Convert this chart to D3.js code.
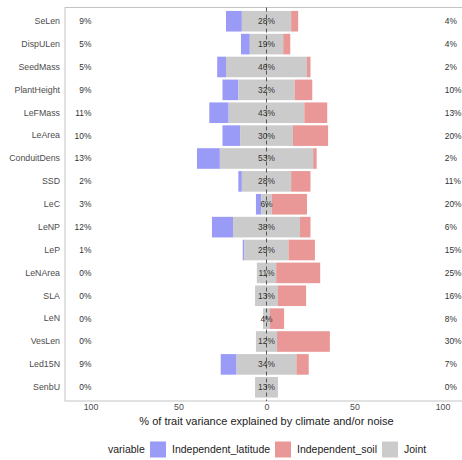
<!DOCTYPE html>
<html>
<head>
<meta charset="utf-8">
<script src="https://cdn.jsdelivr.net/npm/d3@7"></script>
<style>
  html, body { margin: 0; padding: 0; background: #fff; }
  svg { display: block; font-family: "Liberation Sans", Arial, Helvetica, sans-serif; }
</style>
</head>
<body>
<svg id="chart" width="462" height="460"></svg>
<script>
// Traits, top to bottom
const traits = ["SeLen", "DispULen", "SeedMass", "PlantHeight", "LeFMass", "LeArea",
  "ConduitDens", "SSD", "LeC", "LeNP", "LeP", "LeNArea", "SLA", "LeN", "VesLen",
  "Led15N", "SenbU"];

// % of trait variance explained by each component
const latitude = [9, 5, 5, 9, 11, 10, 13, 2, 3, 12, 1, 0, 0, 0, 0, 9, 0];
const joint    = [28, 19, 46, 32, 43, 30, 53, 28, 6, 38, 25, 11, 13, 4, 12, 34, 13];
const soil     = [4, 4, 2, 10, 13, 20, 2, 11, 20, 6, 15, 25, 16, 8, 30, 7, 0];

const xTicks = [-100, -50, 0, 50, 100];
const legendKeys = ["Independent_latitude", "Independent_soil", "Joint"];
const fills = {
  Independent_latitude: "#9a9af7",
  Independent_soil: "#e99797",
  Joint: "#cbcbcb"
};

const svg = d3.select("#chart");
const panel = { left: 65, right: 475, top: 7.5, bottom: 401 };

const x = d3.scaleLinear().domain([-100, 100]).range([90.5, 442.5]);
const y = d3.scaleBand().domain(traits)
  .range([panel.top, panel.bottom])
  .paddingInner(0.1).paddingOuter(0.15);

// Panel border
svg.append("rect")
  .attr("x", panel.left).attr("y", panel.top)
  .attr("width", panel.right - panel.left).attr("height", panel.bottom - panel.top)
  .attr("fill", "none").attr("stroke", "#c4c4c4").attr("stroke-width", 1);

// Stacked segments: joint centred on zero, latitude to the left, soil to the right
const rows = traits.map((t, i) => ({
  trait: t, lat: latitude[i], joint: joint[i], soil: soil[i]
}));

const segs = [];
rows.forEach(r => {
  const h = r.joint / 2;
  segs.push({ trait: r.trait, key: "Independent_latitude", x0: -h - r.lat, x1: -h });
  segs.push({ trait: r.trait, key: "Joint", x0: -h, x1: h });
  segs.push({ trait: r.trait, key: "Independent_soil", x0: h, x1: h + r.soil });
});

svg.append("g").selectAll("rect")
  .data(segs.filter(s => s.x1 > s.x0))
  .join("rect")
  .attr("x", d => x(d.x0))
  .attr("width", d => x(d.x1) - x(d.x0))
  .attr("y", d => y(d.trait))
  .attr("height", y.bandwidth())
  .attr("fill", d => fills[d.key]);

// Zero reference line
svg.append("line")
  .attr("x1", x(0)).attr("x2", x(0))
  .attr("y1", panel.top).attr("y2", panel.bottom)
  .attr("stroke", "#555").attr("stroke-width", 1)
  .attr("stroke-dasharray", "4,3");

// Value labels
const lbl = svg.append("g").attr("font-size", 8.4).attr("fill", "#333");
lbl.selectAll("text.j").data(rows).join("text")
  .attr("class", "j")
  .attr("x", x(0)).attr("y", d => y(d.trait) + y.bandwidth() / 2)
  .attr("dy", "0.35em").attr("text-anchor", "middle")
  .text(d => d.joint + "%");
lbl.selectAll("text.l").data(rows).join("text")
  .attr("class", "l")
  .attr("x", x(-99.5)).attr("y", d => y(d.trait) + y.bandwidth() / 2)
  .attr("dy", "0.35em").attr("text-anchor", "end")
  .text(d => d.lat + "%");
lbl.selectAll("text.s").data(rows).join("text")
  .attr("class", "s")
  .attr("x", x(101.3)).attr("y", d => y(d.trait) + y.bandwidth() / 2)
  .attr("dy", "0.35em").attr("text-anchor", "start")
  .text(d => d.soil + "%");

// Axes
const xAxis = svg.append("g")
  .attr("transform", `translate(0,${panel.bottom})`)
  .call(d3.axisBottom(x).tickValues(xTicks).tickFormat(d => Math.abs(d)).tickSize(0).tickPadding(3));
xAxis.select(".domain").remove();
xAxis.selectAll("text").attr("font-size", 8.8).attr("fill", "#4d4d4d").attr("font-family", null);

const yAxis = svg.append("g")
  .attr("transform", `translate(${panel.left},0)`)
  .call(d3.axisLeft(y).tickSize(0).tickPadding(5));
yAxis.select(".domain").remove();
yAxis.selectAll("text").attr("font-size", 8.8).attr("fill", "#4d4d4d").attr("font-family", null);

// Axis title
svg.append("text")
  .attr("x", x(0)).attr("y", 425)
  .attr("text-anchor", "middle").attr("font-size", 11).attr("fill", "#222")
  .text("% of trait variance explained by climate and/or noise");

// Legend
const lg = svg.append("g").attr("font-size", 10.5).attr("fill", "#222");
lg.append("text").attr("x", 108).attr("y", 449).attr("dy", "0.35em").text("variable");
const keyX = [150, 275, 382];
legendKeys.forEach((k, i) => {
  lg.append("rect").attr("x", keyX[i]).attr("y", 441.5)
    .attr("width", 16).attr("height", 16).attr("fill", fills[k]);
  lg.append("text").attr("x", keyX[i] + 22).attr("y", 449).attr("dy", "0.35em").text(k);
});
</script>
</body>
</html>
